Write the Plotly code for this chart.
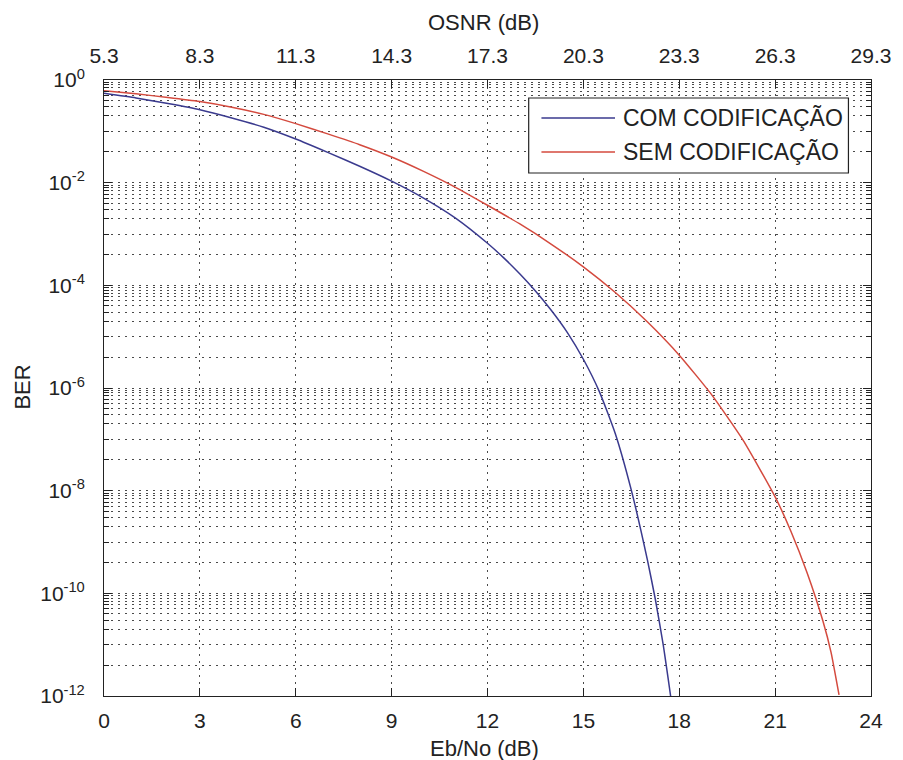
import numpy as np
import plotly.graph_objects as go

# Eb/No (dB) and log10(BER) for the coded link
ebno_com = [0, 1, 2, 3, 4, 5, 6, 7, 8, 9, 10, 11, 12, 12.5, 13, 13.5, 14,
            14.5, 15, 15.5, 16, 16.5, 17, 17.25, 17.5, 17.73]
log_ber_com = [-0.26, -0.35, -0.46, -0.58, -0.74, -0.92, -1.15, -1.41, -1.68,
               -1.97, -2.30, -2.69, -3.18, -3.46, -3.77, -4.11, -4.49, -4.92,
               -5.44, -6.07, -6.89, -7.99, -9.34, -10.11, -11.01, -12.0]

# Eb/No (dB) and log10(BER) for the uncoded link
ebno_sem = [0, 1, 2, 3, 4, 5, 6, 7, 8, 9, 10, 11, 12, 13, 14, 15, 16, 17, 18,
            19, 20, 21, 21.5, 22, 22.5, 22.75, 23]
log_ber_sem = [-0.21, -0.27, -0.34, -0.42, -0.53, -0.67, -0.85, -1.05, -1.26,
               -1.50, -1.78, -2.09, -2.44, -2.80, -3.20, -3.64, -4.14, -4.71,
               -5.36, -6.12, -7.02, -8.12, -8.80, -9.60, -10.55, -11.15, -11.98]

# axis ticks
x_ticks = [0, 3, 6, 9, 12, 15, 18, 21, 24]
osnr_offset = 5.3  # OSNR (dB) = Eb/No (dB) + offset
y_label_exps = [0, -2, -4, -6, -8, -10, -12]

BLUE = "#3A3A8E"
RED = "#D44A3E"
GRID = "#4a4a4a"
AXIS = "#222222"
FONT = "Liberation Sans, Arial, sans-serif"
DOTS = "1.5px,5.5px"

ber_com = 10.0 ** np.array(log_ber_com)
ber_sem = 10.0 ** np.array(log_ber_sem)
osnr_ticks = [round(v + osnr_offset, 1) for v in x_ticks]

# minor grid: full set in the upper decade of each 2-decade block, plus 4x in the lower
minor_vals = []
for e in y_label_exps[:-1]:
    minor_vals += [m * 10.0 ** (e - 1) for m in range(2, 10)]
    minor_vals.append(10.0 ** (e - 1))
    minor_vals.append(4 * 10.0 ** (e - 2))

fig = go.Figure()
fig.add_trace(go.Scatter(
    x=ebno_com, y=ber_com, mode="lines", name="COM CODIFICAÇÃO",
    line=dict(color=BLUE, width=1.5, shape="spline", smoothing=0.5),
    showlegend=False,
))
fig.add_trace(go.Scatter(
    x=ebno_sem, y=ber_sem, mode="lines", name="SEM CODIFICAÇÃO",
    line=dict(color=RED, width=1.5, shape="spline", smoothing=0.5),
    showlegend=False,
))
# same uncoded series on the OSNR scale, transparent, so the top axis is drawn
fig.add_trace(go.Scatter(
    x=np.array(ebno_sem) + osnr_offset, y=ber_sem, xaxis="x2", mode="lines",
    line=dict(color="rgba(0,0,0,0)", width=0), hoverinfo="skip",
    showlegend=False,
))

W, H = 903, 760
L, R, T, B = 104, 17, 80, 64
pw, ph = W - L - R, H - T - B


def px(xp):
    return (xp - L) / pw


def py(yp):
    return (H - B - yp) / ph


fig.update_layout(
    width=W, height=H,
    margin=dict(l=L, r=R, t=T, b=B, pad=0),
    paper_bgcolor="white", plot_bgcolor="white",
    font=dict(family=FONT, size=21, color="#222222"),
    showlegend=False,
    xaxis=dict(
        range=[0, 24], tickmode="array", tickvals=x_ticks,
        ticktext=[str(v) for v in x_ticks],
        ticks="inside", ticklen=8, tickcolor=AXIS, tickwidth=1,
        showline=True, linecolor=AXIS, linewidth=1, mirror="ticks",
        showgrid=True, gridcolor=GRID, gridwidth=1, griddash=DOTS,
        zeroline=False, ticklabelstandoff=6,
        tickfont=dict(size=21),
    ),
    xaxis2=dict(
        overlaying="x", side="top", anchor="y",
        range=[osnr_offset, 24 + osnr_offset], tickmode="array",
        tickvals=osnr_ticks, ticktext=[f"{v:.1f}" for v in osnr_ticks],
        ticks="inside", ticklen=8, tickcolor=AXIS,
        showline=False, showgrid=False, zeroline=False,
        ticklabelstandoff=12, tickfont=dict(size=21),
    ),
    yaxis=dict(
        type="log", range=[-12, 0], tickmode="array",
        tickvals=[10.0 ** e for e in y_label_exps],
        ticktext=[f"10<sup>{e}</sup>" for e in y_label_exps],
        ticks="inside", ticklen=8, tickcolor=AXIS, tickwidth=1,
        showline=True, linecolor=AXIS, linewidth=1, mirror="ticks",
        showgrid=True, gridcolor=GRID, gridwidth=1, griddash=DOTS,
        zeroline=False, ticklabelstandoff=14,
        tickfont=dict(size=21),
        minor=dict(
            tickmode="array", tickvals=minor_vals,
            ticks="inside", ticklen=5, tickcolor=AXIS,
            showgrid=True, gridcolor=GRID, gridwidth=1, griddash=DOTS,
        ),
    ),
)

# axis titles
fig.add_annotation(text="OSNR (dB)", xref="paper", yref="paper",
                   x=px(491), y=py(22), showarrow=False,
                   font=dict(size=22), xanchor="center", yanchor="middle")
fig.add_annotation(text="Eb/No (dB)", xref="paper", yref="paper",
                   x=px(492), y=py(748), showarrow=False,
                   font=dict(size=22), xanchor="center", yanchor="middle")
fig.add_annotation(text="BER", xref="paper", yref="paper",
                   x=px(20), y=py(387), showarrow=False, textangle=-90,
                   font=dict(size=22), xanchor="center", yanchor="middle")

# legend box
fig.add_shape(type="rect", xref="paper", yref="paper",
              x0=px(537), x1=px(863), y0=py(173), y1=py(98),
              line=dict(color=AXIS, width=1.2), fillcolor="white", layer="above")
for name, color, yy in [("COM CODIFICAÇÃO", BLUE, 118), ("SEM CODIFICAÇÃO", RED, 152)]:
    fig.add_shape(type="line", xref="paper", yref="paper",
                  x0=px(550), x1=px(625), y0=py(yy), y1=py(yy),
                  line=dict(color=color, width=1.5), layer="above")
    fig.add_annotation(text=name, xref="paper", yref="paper",
                       x=px(631), y=py(yy), showarrow=False,
                       xanchor="left", yanchor="middle",
                       font=dict(size=23, color="#222222"))

fig.write_html("out.html")
